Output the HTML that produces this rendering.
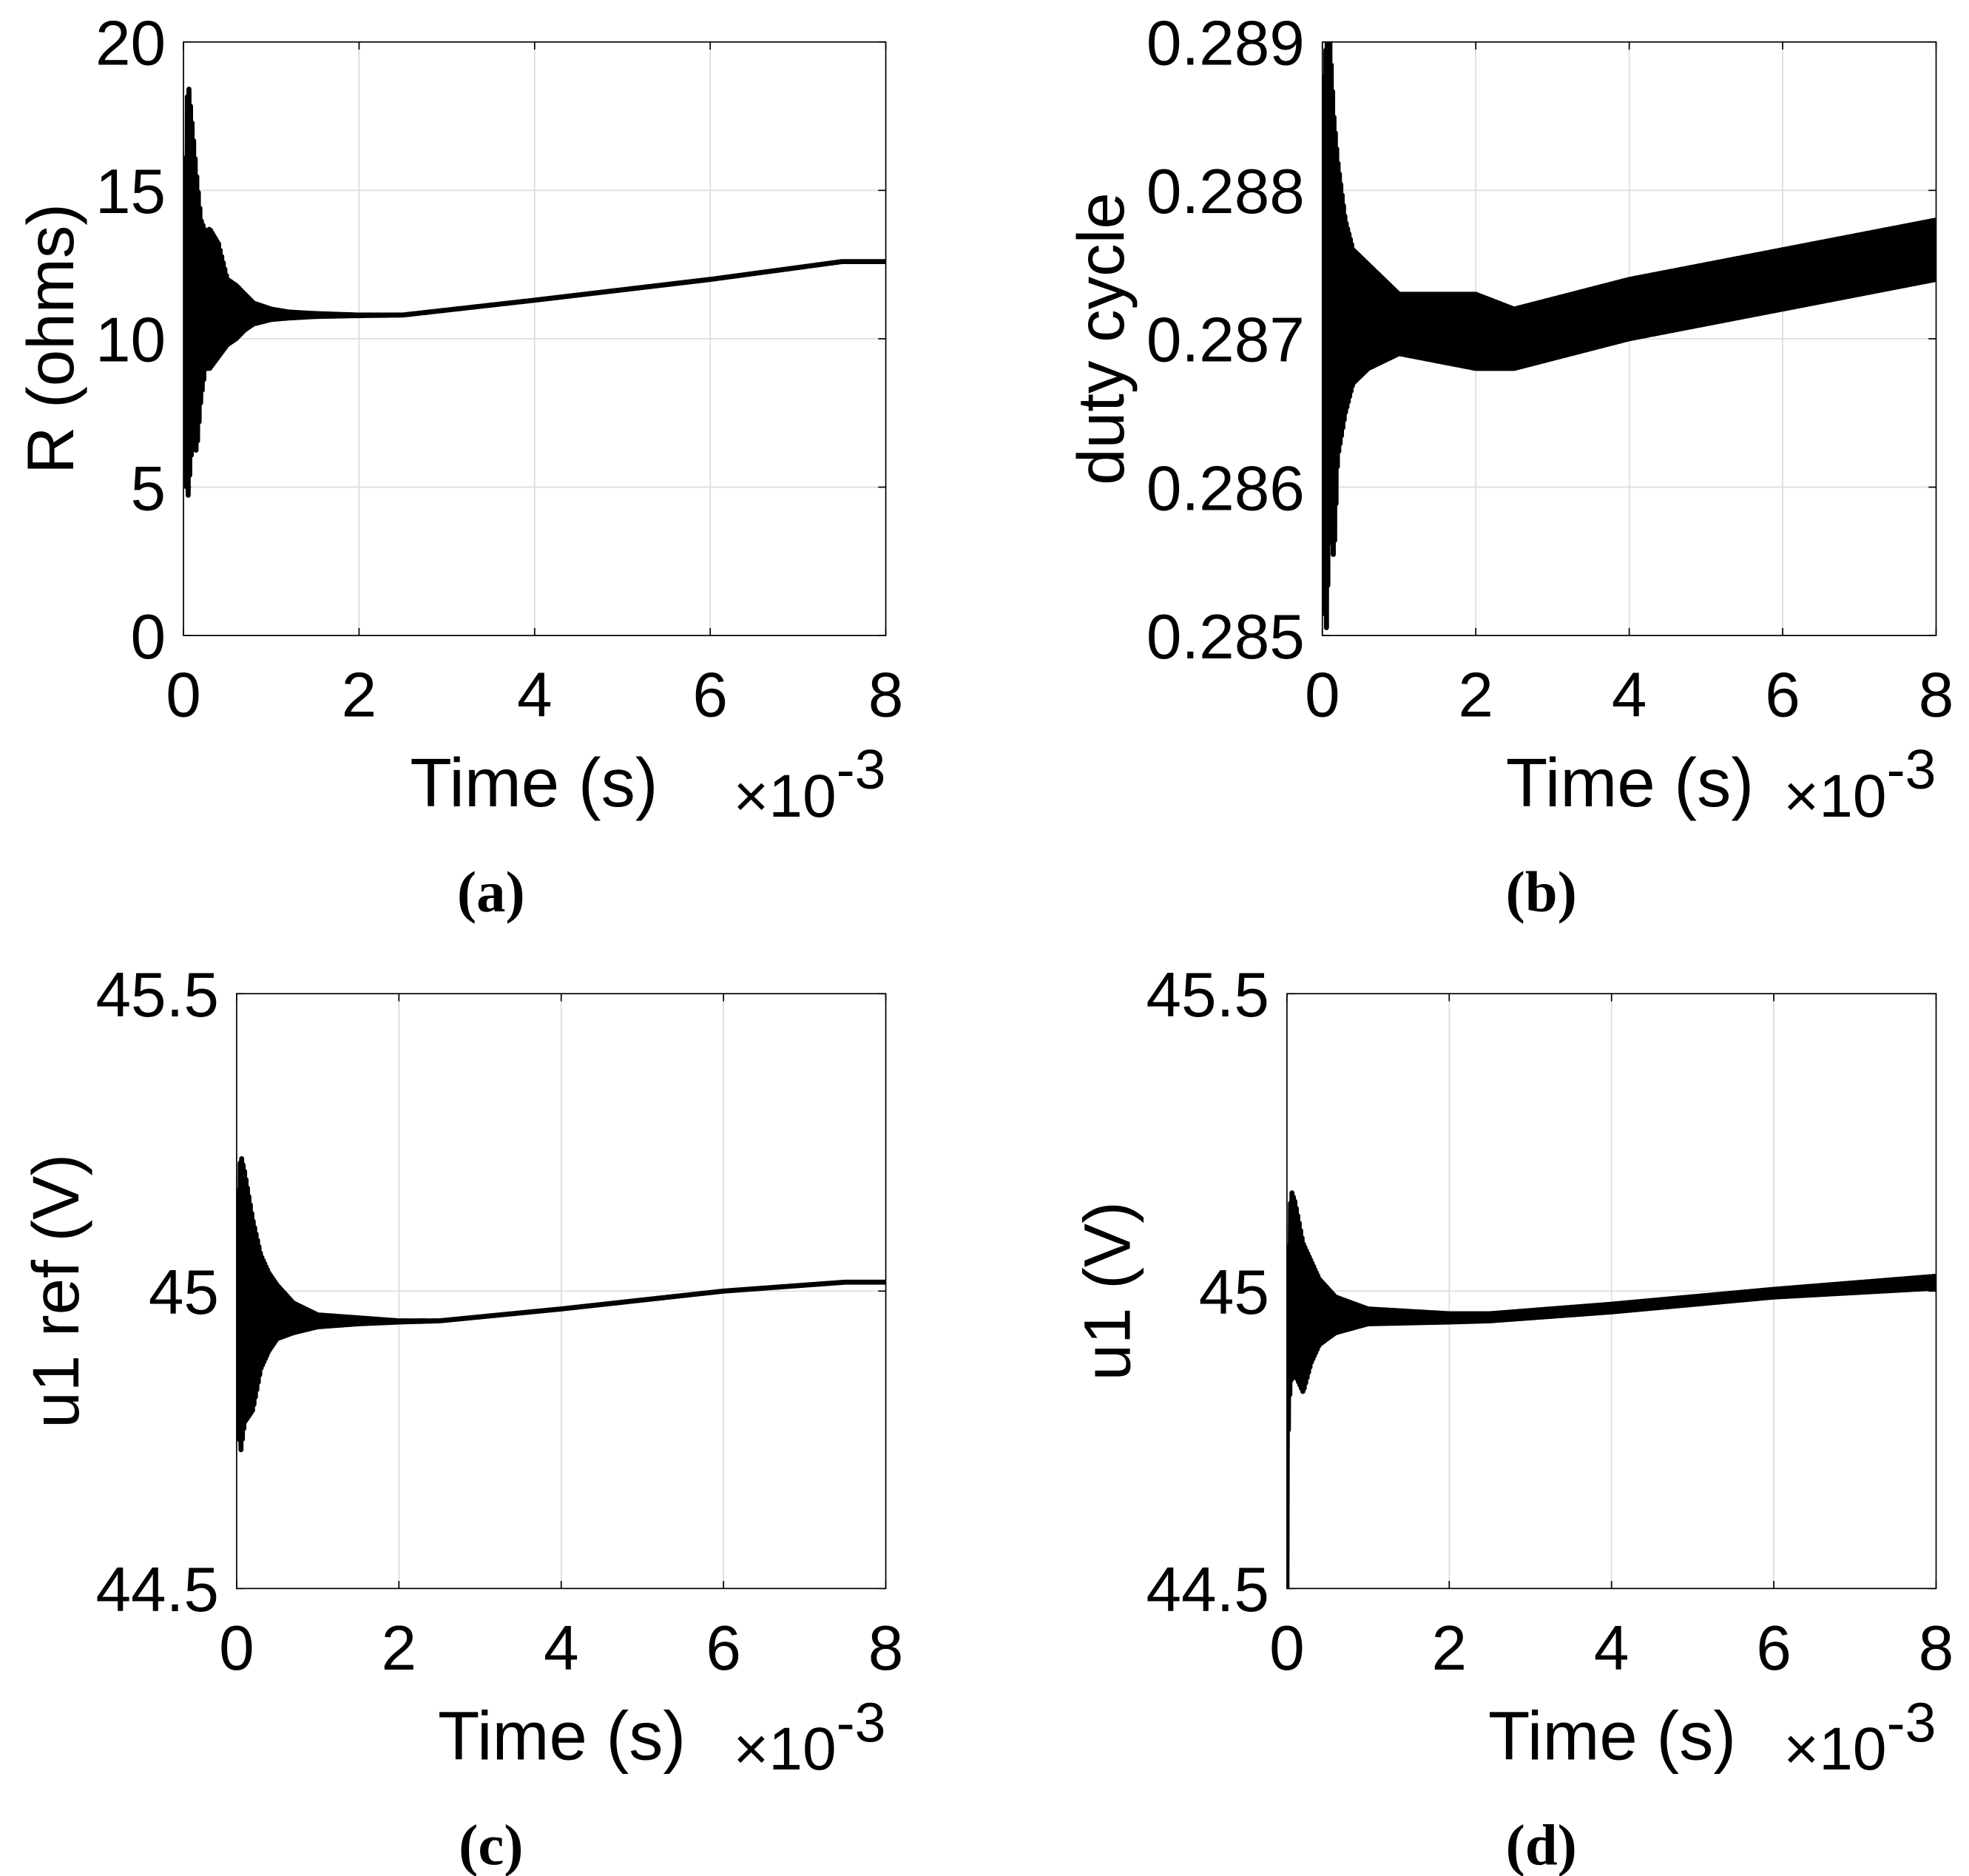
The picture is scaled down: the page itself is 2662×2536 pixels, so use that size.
<!DOCTYPE html>
<html><head><meta charset="utf-8"><style>
html,body{margin:0;padding:0;background:#fff}
svg{display:block}
text{font-family:"Liberation Sans",Arial,sans-serif;fill:#000}
.cap{font-family:"Liberation Serif",serif;font-weight:bold;font-size:46px}
</style></head><body>
<svg id="fig" width="2662" height="2536" viewBox="0 0 1556 1482" xmlns="http://www.w3.org/2000/svg"></svg>
<script>
// ----- data (time in ms) -----
const tA=[0,0.05,0.1,0.15,0.2,0.25,0.3,0.4,0.5,0.6,0.7,0.8,1.0,1.2,1.5,2.0,2.5,4,6,7.5,8];
const hiA=[13,18.8,17.2,15.5,14,13.6,13.7,13.2,12,11.8,11.5,11.2,11.0,10.9,10.85,10.8,10.8,11.3,12,12.6,12.6];
const loA=[6,4.6,6.5,6.2,8,9,9,9.4,9.8,10.0,10.3,10.5,10.65,10.7,10.75,10.78,10.8,11.3,12,12.6,12.6];
const tB=[0,0.05,0.1,0.15,0.2,0.3,0.4,0.6,1,2,2.5,4,6,8];
const hiB=[0.2885,0.289,0.289,0.2885,0.2882,0.2878,0.2876,0.2875,0.2873,0.2873,0.2872,0.2874,0.2876,0.2878];
const loB=[0.2855,0.285,0.2858,0.2855,0.2862,0.2865,0.2867,0.2868,0.2869,0.2868,0.2868,0.287,0.2872,0.2874];
const tC=[0,0.05,0.1,0.2,0.3,0.4,0.5,0.7,1,1.5,2,2.5,4,6,7.5,8];
const hiC=[45.1,45.23,45.2,45.12,45.06,45.03,45.01,44.98,44.96,44.955,44.95,44.95,44.97,45.0,45.015,45.015];
const loC=[44.8,44.73,44.78,44.8,44.87,44.9,44.92,44.93,44.94,44.945,44.948,44.95,44.97,45.0,45.015,45.015];
const tD=[0,0.02,0.05,0.1,0.2,0.3,0.4,0.6,1,2,2.5,4,6,8];
const hiD=[45.05,45.05,45.17,45.15,45.08,45.05,45.02,44.99,44.97,44.962,44.962,44.978,45.003,45.025];
const loD=[44.5,44.8,44.85,44.86,44.83,44.88,44.91,44.93,44.945,44.948,44.95,44.965,44.99,45.005];
const xTicks=[0,2,4,6,8];
const yTicksA=[0,5,10,15,20];
const yTicksB=[0.285,0.286,0.287,0.288,0.289];
const yTicksC=[44.5,45,45.5];

const NS="http://www.w3.org/2000/svg";
const svg=document.getElementById('fig');
function mk(tag,attrs,parent){const e=document.createElementNS(NS,tag);for(const k in attrs)e.setAttribute(k,attrs[k]);(parent||svg).appendChild(e);return e;}
function interp(ts,vs,t){for(let i=1;i<ts.length;i++){if(t<=ts[i]){const f=(t-ts[i-1])/(ts[i]-ts[i-1]);return vs[i-1]+f*(vs[i]-vs[i-1]);}}return vs[vs.length-1];}

function panel(o){
  const g=mk('g',{});
  
  
  const X=v=>o.x0+(v-0)/(8-0)*(o.x1-o.x0);
  const Y=v=>o.y1-(v-o.ymin)/(o.ymax-o.ymin)*(o.y1-o.y0);
  xTicks.forEach(v=>{if(v>0&&v<8){const l=mk('line',{x1:X(v),x2:X(v),y1:o.y0,y2:o.y1,stroke:'#dcdcdc','stroke-width':1},g);}});
  o.yt.forEach(v=>{if(v>o.ymin&&v<o.ymax){const l=mk('line',{x1:o.x0,x2:o.x1,y1:Y(v),y2:Y(v),stroke:'#dcdcdc','stroke-width':1},g);}});
  let pts=[];const N=900;
  for(let i=0;i<=N;i++){const t=8*i/N;const h=interp(o.t,o.hi,t),l=interp(o.t,o.lo,t);pts.push(X(t).toFixed(2)+','+Y(i%2?h:l).toFixed(2));}
  const cl='clip'+o.name;const cp=mk('clipPath',{id:cl},g);mk('rect',{x:o.x0,y:o.y0,width:o.x1-o.x0,height:o.y1-o.y0},cp);
  const s=mk('polyline',{points:pts.join(' '),fill:'none',stroke:'#000','stroke-width':4,'stroke-linejoin':'round','clip-path':'url(#'+cl+')'},g);
  
  const b=mk('rect',{x:o.x0,y:o.y0,width:o.x1-o.x0,height:o.y1-o.y0,fill:'none',stroke:'#000','stroke-width':1},g);
  
  xTicks.forEach(v=>{mk('line',{x1:X(v),x2:X(v),y1:o.y1,y2:o.y1-6,stroke:'#000'},g);mk('line',{x1:X(v),x2:X(v),y1:o.y0,y2:o.y0+6,stroke:'#000'},g);
    const t=mk('text',{x:X(v),y:o.y1+64,'font-size':50,'text-anchor':'middle'},g);t.textContent=v;
    });
  o.yt.forEach(v=>{mk('line',{x1:o.x0,x2:o.x0+6,y1:Y(v),y2:Y(v),stroke:'#000'},g);mk('line',{x1:o.x1,x2:o.x1-6,y1:Y(v),y2:Y(v),stroke:'#000'},g);
    const t=mk('text',{x:o.x0-14,y:Y(v)+18,'font-size':50,'text-anchor':'end'},g);t.textContent=o.fmt(v);
    });
  const xl=mk('text',{x:o.xlx,y:o.y1+135,'font-size':54,'text-anchor':'middle'},g);xl.textContent='Time (s)';
  
  const ex=mk('text',{x:o.x1,y:o.y1+143,'font-size':48,'text-anchor':'end'},g);
  
  ex.innerHTML='×10<tspan dy="-22" font-size="44">-3</tspan>';
  const yl=mk('text',{x:0,y:0,'font-size':52,'text-anchor':'middle',transform:`translate(${o.ylx},${(o.y0+o.y1)/2}) rotate(-90)`},g);yl.textContent=o.ylab;
  
  const c=mk('text',{x:o.capx,y:o.y1+218,'text-anchor':'middle'},g);c.setAttribute('class','cap');c.textContent=o.cap;
  
}
panel({name:'panel-a',x0:145,x1:700,y0:33,y1:502,ymin:0,ymax:20,yt:yTicksA,fmt:v=>String(v),t:tA,hi:hiA,lo:loA,ylab:'R (ohms)',ylx:58,xlx:422,cap:'(a)',capx:388});
panel({name:'panel-b',x0:1045,x1:1530,y0:33,y1:502,ymin:0.285,ymax:0.289,yt:yTicksB,fmt:v=>v.toFixed(3),t:tB,hi:hiB,lo:loB,ylab:'duty cycle',ylx:888,xlx:1288,cap:'(b)',capx:1218});
panel({name:'panel-c',x0:187,x1:700,y0:785,y1:1255,ymin:44.5,ymax:45.5,yt:yTicksC,fmt:v=>String(v),t:tC,hi:hiC,lo:loC,ylab:'u1 ref (V)',ylx:62,xlx:444,cap:'(c)',capx:388});
panel({name:'panel-d',x0:1017,x1:1530,y0:785,y1:1255,ymin:44.5,ymax:45.5,yt:yTicksC,fmt:v=>String(v),t:tD,hi:hiD,lo:loD,ylab:'u1 (V)',ylx:893,xlx:1274,cap:'(d)',capx:1218});
</script>
</body></html>
